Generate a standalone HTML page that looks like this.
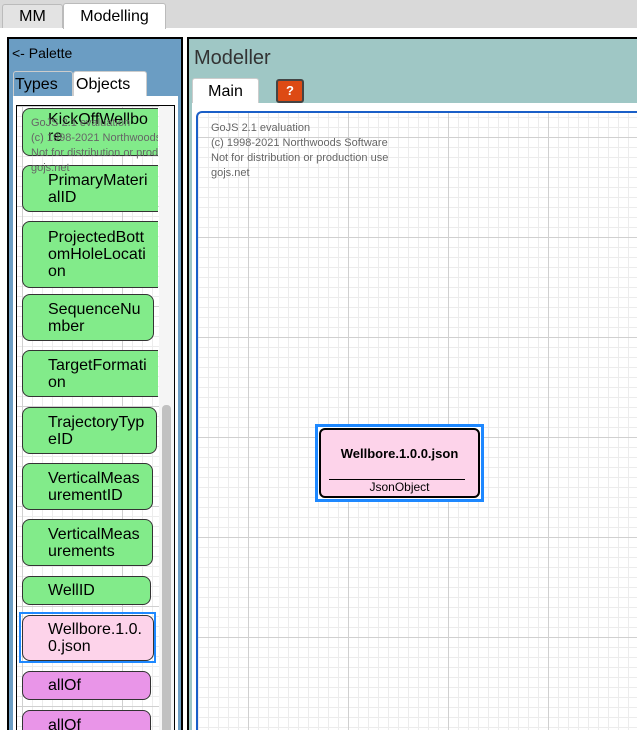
<!DOCTYPE html>
<html><head><style>
*{margin:0;padding:0;box-sizing:border-box}
html,body{width:637px;height:730px;overflow:hidden;background:#fff;font-family:"Liberation Sans",sans-serif}
#w{position:relative;width:637px;height:730px;overflow:hidden}
.a{position:absolute}
.node{position:absolute;left:22px;border:1px solid #333;border-radius:8px;background:#82eb8a;font-size:16px;line-height:17px;padding-left:25px;color:#000;display:flex;align-items:center}
.g{background-color:#fff;background-image:linear-gradient(#d0d0d0 1px,transparent 1px),linear-gradient(90deg,#d0d0d0 1px,transparent 1px),linear-gradient(#ececec 1px,transparent 1px),linear-gradient(90deg,#ececec 1px,transparent 1px);background-size:100px 100px,100px 100px,10px 10px,10px 10px}
.wm{position:absolute;font-size:11px;color:#666;line-height:15px;white-space:nowrap}
</style></head><body><div id="w">
<div class="a" style="left:0;top:0;width:637px;height:28px;background:#d9d9d9"></div>
<div class="a" style="left:2px;top:4px;width:61px;height:24px;background:#e3e3e3;border:1px solid #bbb;border-bottom:none;border-radius:3px 3px 0 0;font-size:16px;line-height:24px;text-align:center">MM</div>
<div class="a" style="left:63px;top:3px;width:103px;height:26px;background:#fff;border:1px solid #bbb;border-bottom:none;border-radius:3px 3px 0 0;font-size:16px;line-height:26px;text-align:center">Modelling</div>

<div class="a" style="left:7px;top:37px;width:176px;height:693px;background:#6b9dc3;border:2px solid #000;border-bottom:none"></div>
<div class="a" style="left:12px;top:45px;font-size:14px">&lt;- Palette</div>
<div class="a" style="left:13px;top:71px;width:60px;height:26px;border:1px solid #ccc;border-bottom:none;border-radius:3px 3px 0 0;font-size:16px;line-height:26px;padding-left:1px">Types</div>
<div class="a" style="left:73px;top:71px;width:74px;height:26px;background:#fff;border:1px solid #ccc;border-bottom:none;border-radius:3px 3px 0 0;font-size:16px;line-height:26px;padding-left:2px">Objects</div>
<div class="a" style="left:13px;top:96px;width:165px;height:634px;background:#fff"></div>
<div class="a" style="left:16px;top:105px;width:159px;height:625px;border:1px solid #000;border-bottom:none;overflow:hidden">
 <div class="a g" style="left:0;top:0;width:142px;height:625px;background-position:5px 0,5px 0,5px 0,5px 0"></div>
 <div class="a" style="left:142px;top:0;width:15px;height:625px;background:#f5f5f5"></div>
 <div class="a" style="left:145px;top:299px;width:9px;height:326px;background:#c1c1c1;border-radius:4px 4px 0 0"></div>
</div>
<div class="a" style="left:17px;top:106px;width:141px;height:624px;overflow:hidden">
<div class="node" style="left:5px;top:2px;width:150px;height:48px;align-items:flex-start;padding-top:2px">KickOffWellbo<br>re</div>
<div class="node" style="left:5px;top:59px;width:150px;height:47px">PrimaryMateri<br>alID</div>
<div class="node" style="left:5px;top:115px;width:150px;height:67px">ProjectedBott<br>omHoleLocati<br>on</div>
<div class="node" style="left:5px;top:188px;width:132px;height:47px">SequenceNu<br>mber</div>
<div class="node" style="left:5px;top:244px;width:150px;height:47px">TargetFormati<br>on</div>
<div class="node" style="left:5px;top:301px;width:135px;height:47px">TrajectoryTyp<br>eID</div>
<div class="node" style="left:5px;top:357px;width:131px;height:47px">VerticalMeas<br>urementID</div>
<div class="node" style="left:5px;top:413px;width:131px;height:47px">VerticalMeas<br>urements</div>
<div class="node" style="left:5px;top:470px;width:129px;height:29px">WellID</div>
<div class="a" style="left:2px;top:506px;width:137px;height:51px;border:2px solid #1e88ff"></div>
<div class="node" style="left:5px;top:509px;width:132px;height:46px;background:#fdd3ea">Wellbore.1.0.<br>0.json</div>
<div class="node" style="left:5px;top:565px;width:129px;height:29px;background:#e995e8">allOf</div>
<div class="node" style="left:5px;top:604px;width:129px;height:30px;background:#e995e8;align-items:flex-start;padding-top:6px">allOf</div>
<div class="wm" style="left:14px;top:10px">GoJS 2.1 evaluation<br>(c) 1998-2021 Northwoods Software<br>Not for distribution or production use<br>gojs.net</div>
</div>

<div class="a" style="left:187px;top:37px;width:450px;height:693px;background:#9fc7c5;border:2px solid #000;border-right:none;border-bottom:none"></div>
<div class="a" style="left:194px;top:47px;font-size:20px;color:#333">Modeller</div>
<div class="a" style="left:192px;top:78px;width:67px;height:26px;background:#fff;border:1px solid #ccc;border-bottom:none;border-radius:3px 3px 0 0;font-size:16px;line-height:26px;text-align:center">Main</div>
<div class="a" style="left:276px;top:79px;width:28px;height:24px;background:#dd4a14;border:2px solid #444;border-radius:3px;color:#fff;font-size:13px;font-weight:bold;text-align:center;line-height:20px">?</div>
<div class="a" style="left:192px;top:103px;width:445px;height:627px;background:#fff"></div>
<div class="a g" style="left:196px;top:111px;width:441px;height:619px;border:2px solid #1a5fc8;border-right:none;border-bottom:none;border-radius:6px 0 0 0;background-position:50px 24px,50px 24px,0 4px,0 4px"></div>
<div class="wm" style="left:211px;top:121px;line-height:15px">GoJS 2.1 evaluation<br>(c) 1998-2021 Northwoods Software<br>Not for distribution or production use<br>gojs.net</div>
<div class="a" style="left:315px;top:424px;width:169px;height:78px;border:3px solid #1e88ff;background:#fff"></div>
<div class="a" style="left:319px;top:428px;width:161px;height:70px;border:2px solid #000;border-radius:6px;background:#fdd3ea"></div>
<div class="a" style="left:319px;top:446px;width:161px;text-align:center;font-size:13px;font-weight:bold">Wellbore.1.0.0.json</div>
<div class="a" style="left:329px;top:479px;width:136px;height:1px;background:#000"></div>
<div class="a" style="left:319px;top:480px;width:161px;text-align:center;font-size:12px">JsonObject</div>
</div></body></html>
